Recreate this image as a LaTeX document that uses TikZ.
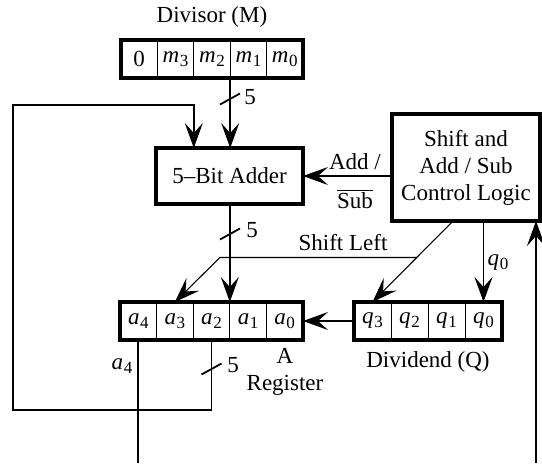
\documentclass[tikz,border=0pt]{standalone}
\usepackage{fontspec}
\setmainfont{Liberation Serif}
\usetikzlibrary{arrows.meta,fit,calc}
\newcommand{\rv}[2]{\textit{#1}\kern0.3pt\raisebox{-0.35ex}{\fontsize{8.5}{9}\selectfont #2}}
\begin{document}
\begin{tikzpicture}[x=0.5pt,y=-0.5pt,
  every node/.style={font=\fontsize{11.5}{13.5}\selectfont},
  cell/.style={draw, line width=0.5pt, minimum height=19pt, inner sep=0pt, outer sep=0pt, anchor=north west},
  mcell/.style={cell, minimum width=18.2pt},
  acell/.style={cell, minimum width=18.3pt},
  qcell/.style={cell, minimum width=18.5pt},
  reg/.style={draw, line width=2pt, inner sep=0pt, outer sep=0pt},
  box/.style={draw, line width=2pt, align=center, inner sep=0pt, outer sep=0pt},
  conn/.style={line width=0.9pt},
  thinc/.style={line width=0.55pt},
  tip/.style={-{Stealth[length=12.5pt,width=9pt,inset=5pt]}},
  lbl/.style={inner sep=0pt}]
\useasboundingbox (0,0) rectangle (542,463);

% Divisor register
\node[lbl] (divlbl) at (212,17) {Divisor (M)};
\node[mcell] (mz) at (121,40) {0};
\node[mcell] (m3) at (157.4,40) {\rv{m}{3}};
\node[mcell] (m2) at (193.8,40) {\rv{m}{2}};
\node[mcell] (m1) at (230.2,40) {\rv{m}{1}};
\node[mcell] (m0) at (266.6,40) {\rv{m}{0}};
\node[reg, fit=(mz)(m0)] (Mreg) {};

% Adder and control
\node[box, minimum width=73.5pt, minimum height=28pt] (adder) at (229.5,176) {5--Bit Adder};
\node[box, minimum width=74pt, minimum height=53.5pt] (ctrl) at (466,167.5) {Shift and\\Add / Sub\\Control Logic};

% A register
\node[acell] (a4) at (120,302) {\rv{a}{4}};
\node[acell] (a3) at (156.6,302) {\rv{a}{3}};
\node[acell] (a2) at (193.2,302) {\rv{a}{2}};
\node[acell] (a1) at (229.8,302) {\rv{a}{1}};
\node[acell] (a0) at (266.4,302) {\rv{a}{0}};
\node[reg, fit=(a4)(a0)] (Areg) {};
\node[lbl, align=center] (alabel) at (285,372) {A\\Register};

% Q register
\node[qcell] (q3) at (354,302) {\rv{q}{3}};
\node[qcell] (q2) at (391,302) {\rv{q}{2}};
\node[qcell] (q1) at (428,302) {\rv{q}{1}};
\node[qcell] (q0) at (465,302) {\rv{q}{0}};
\node[reg, fit=(q3)(q0)] (Qreg) {};
\node[lbl] (qlabel) at (428,362) {Dividend (Q)};

% M -> adder
\draw[conn,tip] (m1.south west) -- (m1.south west |- adder.north);
\draw[conn] (220,104.5) -- (240,93.5);
\node[lbl] at (250,97) {5};

% feedback a2 -> adder
\coordinate (fbl) at (13,410);
\coordinate (fbt) at (13,105);
\draw[conn,tip] (a2.south) |- (fbl) -- (fbt) -| (adder.north -| m2.west);
\draw[conn] (201.5,374.5) -- (221.5,363.5);
\node[lbl] at (233,365) {5};

% adder -> A
\draw[conn,tip] (adder.south -| a1.west) -- (a1.north west);
\draw[conn] (220,239.5) -- (240,228.5);
\node[lbl] at (252,230) {5};

% control -> q3 and shift left
\coordinate (cs) at (ctrl.south -| 453,0);
\coordinate (sb) at ($(cs)!0.45!(q3.north)$);
\coordinate (sbl) at (sb -| 220,0);
\draw[thinc,tip] (cs) -- (q3.north);
\draw[thinc,tip] (sb) -- (sbl) -- (a3.north);
\node[lbl] at (343,243) {Shift Left};

% control -> q0
\draw[conn,tip] (ctrl.south -| q0.north) -- (q0.north);
\node[lbl] at (498,263) {\rv{q}{0}};

% Add/Sub
\draw[thinc,tip] (ctrl.west |- adder.east) -- (adder.east);
\node[lbl] at (355,162) {Add /};
\node[lbl] at (355,199) {$\overline{\mbox{Sub}}$};

% Q -> A
\draw[conn,tip] (Qreg.west) -- (Areg.east);

% a4 out
\coordinate (a4b) at (a4.south |- 0,463);
\draw[conn] (a4.south) -- (a4b);
\node[lbl] at (122,366) {\rv{a}{4}};

% right input to control
\coordinate (rb) at (536,463);
\draw[line width=1.4pt,tip] (rb) -- (rb |- ctrl.south);
\end{tikzpicture}
\end{document}
